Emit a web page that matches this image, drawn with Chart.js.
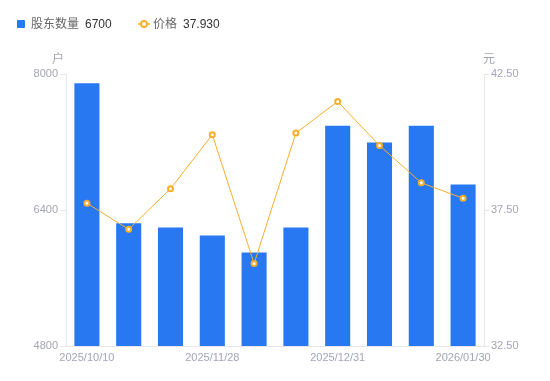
<!DOCTYPE html>
<html>
<head>
<meta charset="utf-8">
<script src="https://cdn.jsdelivr.net/npm/chart.js@4"></script>
<style>
  body { margin: 0; background: #fff; font-family: "Liberation Sans", "Noto Sans CJK SC", sans-serif; }
  #wrap { position: relative; width: 550px; height: 381px; }
  #legend { position: absolute; left: 17px; top: 15px; font-size: 12px; color: #666; white-space: nowrap; }
  #legend span { position: absolute; top: 0; line-height: 18px; }
  .val { color: #333; }
  .sq { width: 8px; height: 8px; background: #2878f2; border-radius: 1px; top: 5px !important; }
</style>
</head>
<body>
<div id="wrap">
  <canvas id="c" width="550" height="381"></canvas>
  <div id="legend">
    <span class="sq" style="left:0"></span>
    <span style="left:14px">股东数量</span>
    <span class="val" style="left:68px">6700</span>
    <svg style="position:absolute;left:121px;top:4px" width="12" height="10">
      <line x1="0" y1="5" x2="12" y2="5" stroke="#f8ae2c" stroke-width="1.5"/>
      <circle cx="6" cy="5" r="3" fill="#fff" stroke="#f8ae2c" stroke-width="2"/>
    </svg>
    <span style="left:136px">价格</span>
    <span class="val" style="left:166px">37.930</span>
  </div>
</div>
<script>
// categories and series
const dates = ["2025/10/10", "2025/10/20", "2025/10/31", "2025/11/28", "2025/12/10",
               "2025/12/19", "2025/12/31", "2026/01/09", "2026/01/20", "2026/01/30"];
const holders = [7890, 6245, 6195, 6100, 5900, 6195, 7390, 7195, 7390, 6700];
const prices = [37.75, 36.79, 38.28, 40.27, 35.53, 40.33, 41.49, 39.87, 38.50, 37.93];
const holderTicks = [4800, 6400, 8000];
const priceTicks = [32.5, 37.5, 42.5];
const shownDates = [0, 3, 6, 9];

const axisGrey = "#e6e6ea";
const tickGrey = "#a3a5b3";
const font = { family: "'Liberation Sans', 'Noto Sans CJK SC', sans-serif", size: 11 };

// unit labels above the two value axes
const unitLabels = {
    id: "unitLabels",
    afterDraw(chart) {
        const { ctx, chartArea } = chart;
        ctx.save();
        ctx.fillStyle = tickGrey;
        ctx.font = "12px 'Noto Sans CJK SC', sans-serif";
        ctx.textBaseline = "middle";
        ctx.textAlign = "center";
        ctx.fillText("户", chartArea.left - 8, chartArea.top - 16);
        ctx.fillText("元", chartArea.right + 5, chartArea.top - 16);
        ctx.restore();
    },
};

new Chart(document.getElementById("c"), {
    data: {
        labels: dates,
        datasets: [
            {
                type: "line",
                label: "价格",
                data: prices,
                yAxisID: "yPrice",
                borderColor: "#f8ae2c",
                borderWidth: 1,
                backgroundColor: "#fff",
                pointRadius: 2.5,
                pointBorderWidth: 2,
                pointBorderColor: "#f8ae2c",
                pointBackgroundColor: "#fff",
                tension: 0,
                order: 0,
            },
            {
                type: "bar",
                label: "股东数量",
                data: holders,
                yAxisID: "yHolders",
                backgroundColor: "#2878f2",
                barPercentage: 0.6,
                categoryPercentage: 1,
                order: 1,
            },
        ],
    },
    options: {
        responsive: false,
        animation: false,
        layout: { padding: { top: 74, left: 0, right: 0, bottom: 0 } },
        plugins: { legend: { display: false }, tooltip: { enabled: false } },
        scales: {
            x: {
                grid: { display: false, drawTicks: false },
                border: { color: axisGrey },
                ticks: {
                    autoSkip: false,
                    maxRotation: 0,
                    color: tickGrey,
                    font: font,
                    padding: 5,
                    callback: (v, i) => (shownDates.includes(i) ? dates[i] : ""),
                },
                afterFit: (s) => { s.height = 35; },
            },
            yHolders: {
                position: "left",
                min: holderTicks[0],
                max: holderTicks[holderTicks.length - 1],
                afterBuildTicks: (s) => { s.ticks = holderTicks.map((v) => ({ value: v })); },
                grid: { drawOnChartArea: false, color: axisGrey, tickLength: 6 },
                border: { color: axisGrey },
                ticks: { color: tickGrey, font: font, padding: 2, callback: (v) => String(v) },
                afterFit: (s) => { s.width = 66; },
            },
            yPrice: {
                position: "right",
                min: priceTicks[0],
                max: priceTicks[priceTicks.length - 1],
                afterBuildTicks: (s) => { s.ticks = priceTicks.map((v) => ({ value: v })); },
                grid: { drawOnChartArea: false, color: axisGrey, tickLength: 5 },
                border: { color: axisGrey },
                ticks: { color: tickGrey, font: font, padding: 2, callback: (v) => Number(v).toFixed(2) },
                afterFit: (s) => { s.width = 66; },
            },
        },
    },
    plugins: [unitLabels],
});
</script>
</body>
</html>
